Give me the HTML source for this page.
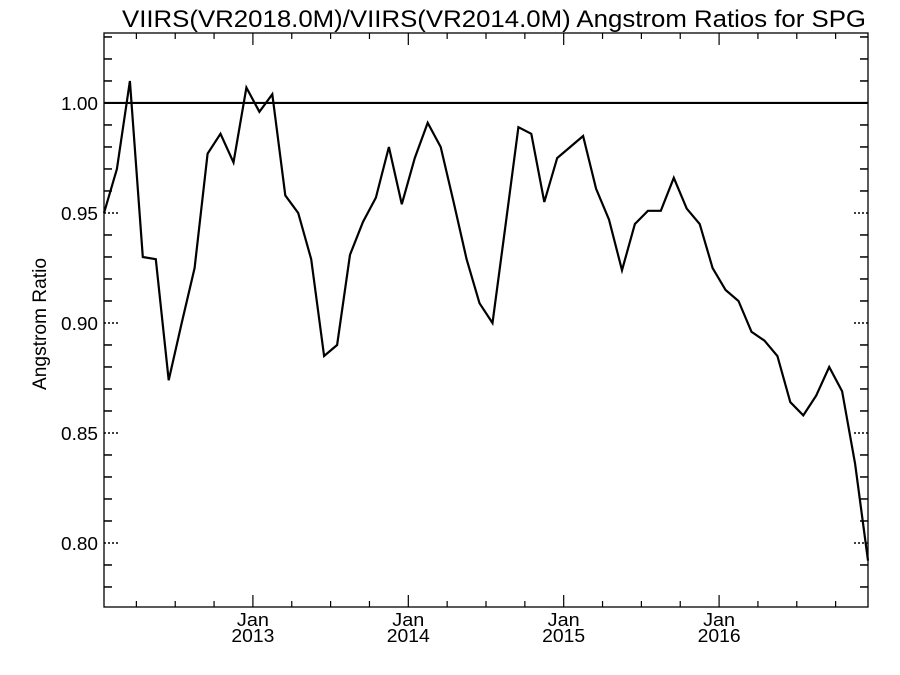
<!DOCTYPE html>
<html><head><meta charset="utf-8"><style>body{margin:0;background:#fff}svg{display:block}text{font-family:"Liberation Sans",sans-serif;fill:#000}</style></head>
<body>
<svg width="900" height="675" xmlns="http://www.w3.org/2000/svg">
<text x="122" y="27" font-size="24" textLength="744" lengthAdjust="spacingAndGlyphs">VIIRS(VR2018.0M)/VIIRS(VR2014.0M)  Angstrom Ratios for SPG</text>
<text transform="translate(46,324) rotate(-90)" font-size="19" text-anchor="middle" textLength="132" lengthAdjust="spacingAndGlyphs">Angstrom Ratio</text>
<rect x="104" y="33" width="764" height="574" fill="none" stroke="#000" stroke-width="1.3"/>
<g id="axes"></g>
<path id="series" fill="none" stroke="#000" stroke-width="2.2"/>
</svg>
<script>
const values=[0.950,0.970,1.010,0.930,0.929,0.874,0.900,0.925,0.977,0.986,0.973,1.007,0.996,1.004,0.958,0.950,0.929,0.885,0.890,0.931,0.946,0.957,0.980,0.954,0.975,0.991,0.980,0.955,0.929,0.909,0.900,0.944,0.989,0.986,0.955,0.975,0.980,0.985,0.961,0.947,0.924,0.945,0.951,0.951,0.966,0.952,0.945,0.925,0.915,0.910,0.896,0.892,0.885,0.864,0.858,0.867,0.880,0.869,0.836,0.792];
const yTicks=[0.80,0.85,0.90,0.95,1.00];
const xTickMonths=[11.5,23.5,35.5,47.5];
const xTickLabels=["2013","2014","2015","2016"];
const refLine=1.0;
const L=104,R=868,T=33,B=607,yMin=0.7709,yMax=1.0318;
const nMonths=values.length-1;
function X(i){return L+(R-L)*i/nMonths;}
function Y(v){return B-(B-T)*(v-yMin)/(yMax-yMin);}
const ns="http://www.w3.org/2000/svg",g=document.getElementById('axes');
function mk(t,a,p){const e=document.createElementNS(ns,t);for(const k in a)e.setAttribute(k,a[k]);(p||g).appendChild(e);return e;}
for(let k=Math.ceil(yMin*100);k<=Math.floor(yMax*100);k++){
 const v=k/100,y=Y(v);
 const major=yTicks.some(t=>Math.abs(t-v)<1e-6);
 const len=major?14:8,dash=major?"2,2":"none";
 const a=mk('line',{x1:L,x2:L+len,y1:y,y2:y,stroke:'#000','stroke-width':1.5,'stroke-dasharray':dash});
 
 
 const b=mk('line',{x1:R-len,x2:R,y1:y,y2:y,stroke:'#000','stroke-width':1.5,'stroke-dasharray':dash});
 
 
}
yTicks.forEach(v=>{
 const t=mk('text',{x:98,y:Y(v)+7,'font-size':18,'text-anchor':'end',textLength:37,lengthAdjust:'spacingAndGlyphs'});
 t.textContent=v.toFixed(2);
 
 
});
for(let m=xTickMonths[0]-Math.floor(xTickMonths[0]/3)*3;m<=nMonths;m+=3){
 const x=X(m);
 const major=xTickMonths.some(t=>Math.abs(t-m)<1e-6);
 const len=major?12:6;
 const a=mk('line',{x1:x,x2:x,y1:B,y2:B-len,stroke:'#000','stroke-width':1.2});
 
 
 const b=mk('line',{x1:x,x2:x,y1:T,y2:T+len,stroke:'#000','stroke-width':1.2});
 
 
}
xTickMonths.forEach((m,i)=>{
 const x=X(m);
 const t1=mk('text',{x:x,y:626,'font-size':18,'text-anchor':'middle',textLength:32,lengthAdjust:'spacingAndGlyphs'});t1.textContent='Jan';
 
 
 const t2=mk('text',{x:x,y:642,'font-size':18,'text-anchor':'middle',textLength:43,lengthAdjust:'spacingAndGlyphs'});t2.textContent=xTickLabels[i];
 
 
});
const rl=mk('line',{x1:L,x2:R,y1:Y(refLine),y2:Y(refLine),stroke:'#000','stroke-width':2.2});


document.getElementById('series').setAttribute('d',values.map((v,i)=>(i?'L':'M')+X(i).toFixed(1)+','+Y(v).toFixed(1)).join(''));
</script>
</body></html>
